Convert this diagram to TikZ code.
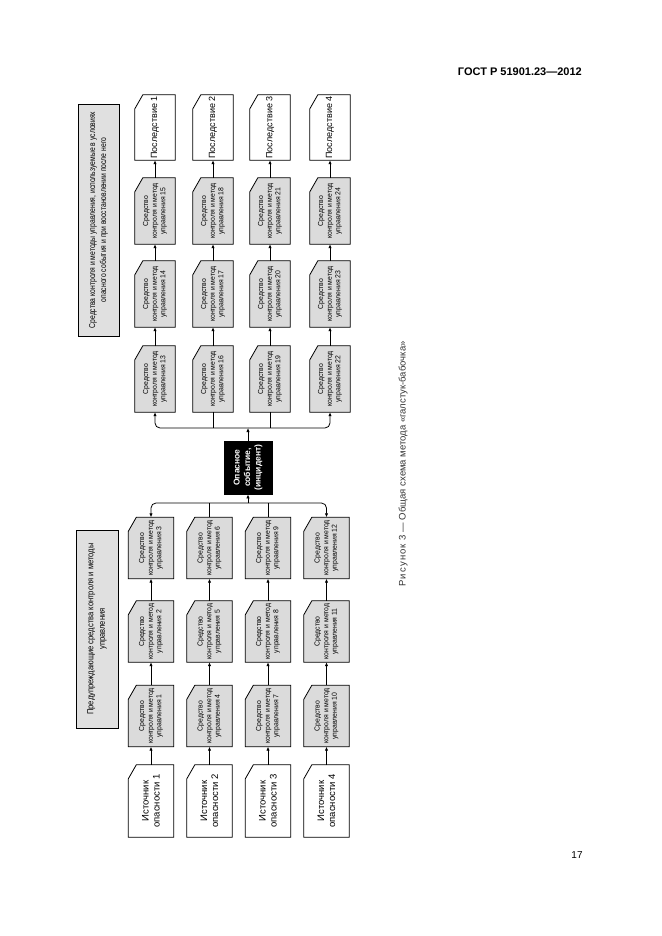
\documentclass[tikz,border=0pt]{standalone}
\usepackage{fontspec}
\setmainfont{Liberation Sans}
\usetikzlibrary{arrows.meta,backgrounds,calc}
\begin{document}
\begin{tikzpicture}[x=1pt,y=-1pt,
  arr/.style={-{Latex[length=4pt,width=3.4pt]}, line width=0.8pt},
  ln/.style={line width=0.8pt},
  bx/.style={rotate=90, shape=rectangle, inner sep=0pt, align=center},
  src/.style={bx, minimum width=72pt, minimum height=45pt, font=\fontsize{9.5}{11}\selectfont},
  ctl/.style={bx, minimum width=61pt, minimum height=45pt, font=\fontsize{7.3}{8.6}\selectfont\addfontfeature{FakeStretch=0.94}},
  ctr/.style={bx, minimum width=66pt, minimum height=40pt, font=\fontsize{7.3}{8.6}\selectfont\addfontfeature{FakeStretch=0.94}},
  con/.style={bx, minimum width=65pt, minimum height=40pt, font=\fontsize{9}{11}\selectfont},
  hdr/.style={bx, draw, fill=black!12, line width=0.8pt},
  outl/.style={line width=0.8pt, draw=black},
]
\useasboundingbox (0,0) rectangle (661,936);

% page texts
\node[font=\bfseries\fontsize{11}{13}\selectfont, anchor=east, inner sep=0pt] (hd) at (582,72) {ГОСТ Р 51901.23—2012};
\node[font=\fontsize{10}{12}\selectfont, inner sep=0pt] (pg) at (577,855) {17};
\node[rotate=90, font=\fontsize{9.5}{11}\selectfont, text=black!80, inner sep=0pt] (cap) at (403,464)
  {{\addfontfeature{LetterSpace=12}Рисунок 3} — Общая схема метода «галстук-бабочка»};

% header boxes
\node[hdr, minimum width=198pt, minimum height=42pt, font=\fontsize{8.8}{11.5}\selectfont\addfontfeature{FakeStretch=0.86}] (h1) at (97,629) {Предупреждающие средства контроля и методы\\управления};
\node[hdr, minimum width=232pt, minimum height=41pt, font=\fontsize{8.6}{11}\selectfont\addfontfeature{FakeStretch=0.79}] (h2) at (98.5,220) {Средства контроля и методы управления, используемые в условиях\\опасного события и при восстановлении после него};

% central event
\node[bx, draw, fill=black, line width=0.8pt, text=white, minimum width=53pt, minimum height=48pt,
      font=\bfseries\fontsize{8.5}{10.5}\selectfont] (ev) at (248,467.5) {Опасное\\событие,\\(инцидент)};

% rows
\foreach \r/\xl/\xr in {1/151/155, 2/209.5/213, 3/268/270, 4/326.5/330} {
  \pgfmathtruncatemacro\na{3*(\r-1)+1}
  \pgfmathtruncatemacro\nb{3*(\r-1)+2}
  \pgfmathtruncatemacro\nc{3*(\r-1)+3}
  \pgfmathtruncatemacro\nd{12+3*(\r-1)+1}
  \pgfmathtruncatemacro\ne{12+3*(\r-1)+2}
  \pgfmathtruncatemacro\nf{12+3*(\r-1)+3}
  \node[src] (s\r) at (\xl,801) {Источник\\опасности \r};
  \node[ctl] (c\na) at (\xl,716) {Средство\\контроля и метод\\управления \na};
  \node[ctl] (c\nb) at (\xl,631.5) {Средство\\контроля и метод\\управления \nb};
  \node[ctl] (c\nc) at (\xl,548) {Средство\\контроля и метод\\управления \nc};
  \node[ctr] (c\nd) at (\xr,379) {Средство\\контроля и метод\\управления \nd};
  \node[ctr] (c\ne) at (\xr,294) {Средство\\контроля и метод\\управления \ne};
  \node[ctr] (c\nf) at (\xr,211) {Средство\\контроля и метод\\управления \nf};
  \node[con] (p\r) at (\xr,127.5) {Последствие \r};
  \draw[arr] (s\r.east) -- (c\na.west);
  \draw[arr] (c\na.east) -- (c\nb.west);
  \draw[arr] (c\nb.east) -- (c\nc.west);
  \draw[arr] (c\nd.east) -- (c\ne.west);
  \draw[arr] (c\ne.east) -- (c\nf.west);
  \draw[arr] (c\nf.east) -- (p\r.west);
}

% outlines of cut-corner boxes
\begin{pgfonlayer}{background}
  \foreach \n in {s1,s2,s3,s4,p1,p2,p3,p4}
    \draw[outl, fill=white] (\n.north west) -- (\n.south west) -- (\n.south east)
      -- ([xshift=8pt]\n.north east) -- ([yshift=-14pt]\n.north east) -- cycle;
  \foreach \k in {1,...,24}
    \draw[outl, fill=black!14] (c\k.north west) -- (c\k.south west) -- (c\k.south east)
      -- ([xshift=8pt]c\k.north east) -- ([yshift=-14pt]c\k.north east) -- cycle;
\end{pgfonlayer}

% brackets
\coordinate (lbr) at (248,503);
\coordinate (rbr) at (248,428);
\draw[arr] (lbr) -- (ev.west);
\draw[arr, rounded corners=5pt] (lbr) -| (c3.east);
\draw[arr, rounded corners=5pt] (lbr) -| (c12.east);
\draw[ln] (c6.east) -- (c6.east |- lbr);
\draw[ln] (c9.east) -- (c9.east |- lbr);

\draw[arr] (ev.east) -- (rbr);
\draw[arr, rounded corners=5pt] (rbr) -| (c13.west);
\draw[arr, rounded corners=5pt] (rbr) -| (c22.west);
\draw[ln] (c16.west) -- (c16.west |- rbr);
\draw[ln] (c19.west) -- (c19.west |- rbr);
\end{tikzpicture}
\end{document}
